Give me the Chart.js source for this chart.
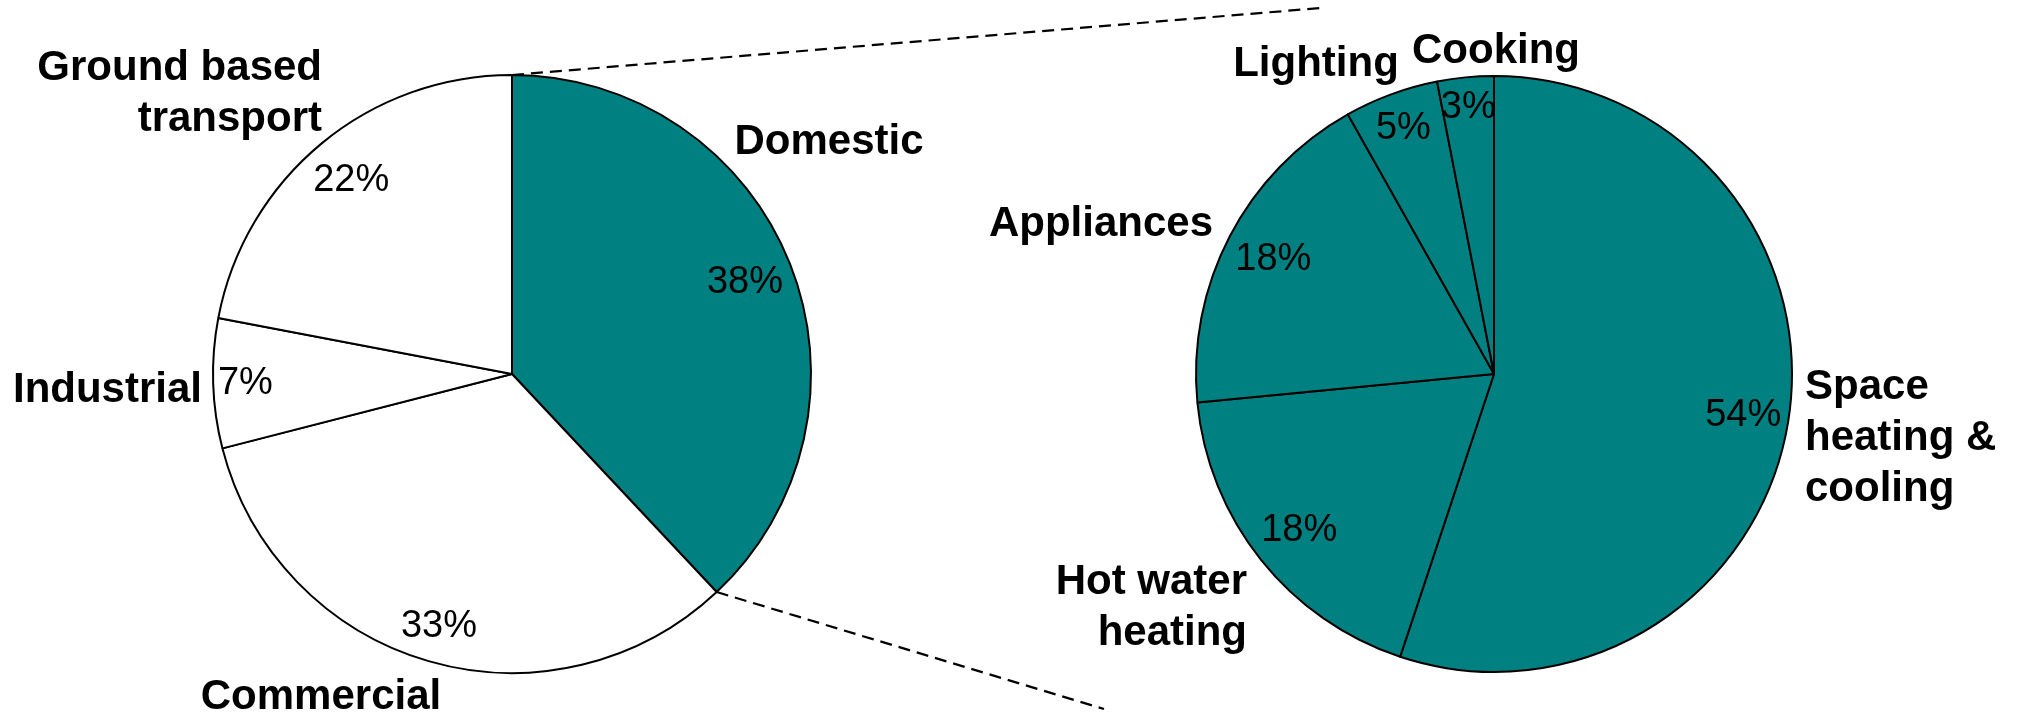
<!DOCTYPE html>
<html>
<head>
<meta charset="utf-8">
<title>Energy use by sector</title>
<script src="https://cdn.jsdelivr.net/npm/chart.js@4.4.1/dist/chart.umd.min.js"></script>
<style>
  html, body { margin: 0; padding: 0; background: #fff; }
  #wrap { position: relative; width: 2017px; height: 712px; overflow: hidden; }
  #wrap canvas { position: absolute; left: 0; top: 0; }
</style>
</head>
<body>
<div id="wrap">
  <canvas id="sectorChart" width="2017" height="712"></canvas>
  <canvas id="domesticChart" width="2017" height="712"></canvas>
</div>
<script>
// data
const sectorLabels = [['Domestic'], ['Commercial'], ['Industrial'], ['Ground based', 'transport']];
const sectorShares = [38, 33, 7, 22];
const sectorColors = ['#008080', '#ffffff', '#ffffff', '#ffffff'];

const domesticLabels = [['Space', 'heating &', 'cooling'], ['Hot water', 'heating'], ['Appliances'], ['Lighting'], ['Cooking']];
const domesticShares = [54, 18, 18, 5, 3];
const domesticColors = ['#008080', '#008080', '#008080', '#008080', '#008080'];

const TEXT_FONT = '"Liberation Sans", Arial, Helvetica, sans-serif';

// where the category names sit, relative to the pie centre
const sectorSpots = [
    { dx: 317, dy: -232, align: 'center' },
    { dx: -191, dy: 323, align: 'center' },
    { dx: -310, dy: 16, align: 'right' },
    { dx: -190, dy: -280, align: 'right' }
];
const domesticSpots = [
    { dx: 311, dy: 64, align: 'left' },
    { dx: -247, dy: 234, align: 'right' },
    { dx: -393, dy: -150, align: 'center' },
    { dx: -178, dy: -310, align: 'center' },
    { dx: 2, dy: -323, align: 'center' }
];

const pieLabels = {
    id: 'pieLabels',
    afterDatasetsDraw(chart, args, opts) {
        const ctx = chart.ctx;
        const meta = chart.getDatasetMeta(0);
        const values = chart.data.datasets[0].data;
        const lineH = 51;
        ctx.save();
        ctx.fillStyle = '#000';
        ctx.textBaseline = 'middle';
        meta.data.forEach(function(arc, i) {
            const p = arc.getProps(['x', 'y', 'startAngle', 'endAngle', 'outerRadius'], true);
            const mid = (p.startAngle + p.endAngle) / 2;
            const ux = Math.cos(mid), uy = Math.sin(mid);

            // percentage, inside the slice near the rim
            const txt = values[i] + '%';
            ctx.font = '38px ' + TEXT_FONT;
            ctx.textAlign = 'center';
            const w = ctx.measureText(txt).width;
            const d = p.outerRadius - (Math.abs(ux) * (w / 2 + 2) + Math.abs(uy) * 25) - 2;
            ctx.fillText(txt, p.x + ux * d, p.y + uy * d + 1);

            // category name
            const spot = opts.spots[i];
            const lines = chart.data.labels[i];
            ctx.font = 'bold 42px ' + TEXT_FONT;
            ctx.textAlign = spot.align;
            const top = p.y + spot.dy - (lines.length - 1) * lineH / 2;
            lines.forEach(function(ln, k) {
                ctx.fillText(ln, p.x + spot.dx, top + k * lineH);
            });
        });
        ctx.restore();
    }
};

// dashed lines from the domestic slice towards the breakdown pie
const zoomLines = {
    id: 'zoomLines',
    afterDatasetsDraw(chart, args, opts) {
        const ctx = chart.ctx;
        const arc = chart.getDatasetMeta(0).data[opts.index];
        const p = arc.getProps(['x', 'y', 'startAngle', 'endAngle', 'outerRadius'], true);
        const angles = [p.startAngle, p.endAngle];
        ctx.save();
        ctx.strokeStyle = '#000';
        ctx.lineWidth = 2.2;
        ctx.setLineDash([12, 7]);
        angles.forEach(function(a, k) {
            ctx.beginPath();
            ctx.moveTo(p.x + Math.cos(a) * p.outerRadius, p.y + Math.sin(a) * p.outerRadius);
            ctx.lineTo(opts.ends[k].x, opts.ends[k].y);
            ctx.stroke();
        });
        ctx.restore();
    }
};

function makePie(id, labels, values, colors, padding, radius, spots, extra) {
    const plugins = { legend: { display: false }, tooltip: { enabled: false }, pieLabels: { spots: spots } };
    if (extra) plugins.zoomLines = extra;
    return new Chart(document.getElementById(id), {
        type: 'pie',
        data: {
            labels: labels,
            datasets: [{
                data: values,
                backgroundColor: colors,
                borderColor: '#000',
                borderWidth: 2,
                hoverOffset: 0
            }]
        },
        options: {
            responsive: false,
            animation: false,
            events: [],
            radius: radius,
            layout: { padding: padding },
            plugins: plugins
        },
        plugins: extra ? [zoomLines, pieLabels] : [pieLabels]
    });
}

makePie('sectorChart', sectorLabels, sectorShares, sectorColors,
    { left: 213, right: 1206, top: 75, bottom: 39 }, 299, sectorSpots,
    { index: 0, ends: [{ x: 1321, y: 8 }, { x: 1104, y: 709 }] });

makePie('domesticChart', domesticLabels, domesticShares, domesticColors,
    { left: 1196, right: 225, top: 76, bottom: 40 }, 298, domesticSpots, null);
</script>
</body>
</html>
